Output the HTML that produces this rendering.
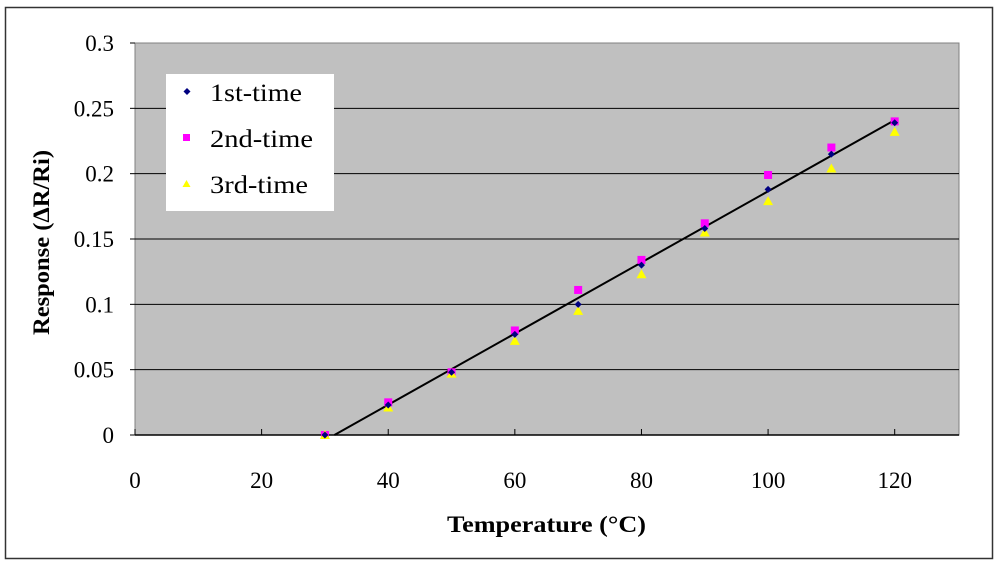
<!DOCTYPE html>
<html><head><meta charset="utf-8"><style>
body{margin:0;background:#fff;width:1000px;height:563px;overflow:hidden}
text{font-family:"Liberation Serif",serif}
</style></head><body>
<svg width="1000" height="563" viewBox="0 0 1000 563">
<rect x="5.5" y="7.5" width="987" height="551" fill="#fff" stroke="#333" stroke-width="1.5"/>
<rect x="135" y="43" width="824" height="392" fill="#c0c0c0" stroke="#808080"/>
<g id="grid"></g><g id="axes"></g><g id="marks"></g>
<text x="447" y="532" font-size="23" font-weight="bold" textLength="199" lengthAdjust="spacingAndGlyphs">Temperature (°C)</text>
<text transform="translate(49,335) rotate(-90)" font-size="23" font-weight="bold" textLength="185" lengthAdjust="spacingAndGlyphs">Response (ΔR/Ri)</text>
<g>
<rect x="166" y="74" width="168" height="137" fill="#fff"/>
<path d="M187 88 l3.5 3.5 l-3.5 3.5 l-3.5 -3.5z" fill="#000080"/>
<text x="210" y="101" font-size="25" textLength="92" lengthAdjust="spacingAndGlyphs">1st-time</text>
<rect x="183" y="134" width="7" height="7" fill="#ff00ff"/>
<text x="210" y="147" font-size="25" textLength="103" lengthAdjust="spacingAndGlyphs">2nd-time</text>
<path d="M186.5 180 l4 7 h-8z" fill="#ffff00"/>
<text x="210" y="193" font-size="25" textLength="98" lengthAdjust="spacingAndGlyphs">3rd-time</text>
</g>
</svg>
<script>
const temps=[30,40,50,60,70,80,90,100,110,120];
const first=[0,0.023,0.048,0.077,0.100,0.130,0.158,0.188,0.215,0.239];
const second=[0,0.025,0.048,0.080,0.111,0.134,0.162,0.199,0.220,0.240];
const third=[0,0.021,0.047,0.072,0.095,0.123,0.155,0.179,0.204,0.232];
const xTicks=[0,20,40,60,80,100,120];
const yTicks=[0,0.05,0.1,0.15,0.2,0.25,0.3];
const yTickLabels=["0","0.05","0.1","0.15","0.2","0.25","0.3"];
const trend=[[31.5,0],[120,0.241]];
const NS="http://www.w3.org/2000/svg";
const X=v=>135+v*(823/130);
const Y=v=>435-v*(392/0.3);
function mk(p,tag,a){const e=document.createElementNS(NS,tag);for(const k in a)e.setAttribute(k,a[k]);p.appendChild(e);return e;}
const grid=document.getElementById('grid'),axes=document.getElementById('axes'),marks=document.getElementById('marks');
yTicks.forEach((t,i)=>{
 if(t>0&&t<0.3){const l=mk(grid,'line',{x1:135,x2:959,y1:Y(t),y2:Y(t),stroke:'#000','stroke-width':1});
 
 }
 mk(axes,'line',{x1:130,x2:135,y1:Y(t),y2:Y(t),stroke:'#000'});
 const tx=mk(axes,'text',{x:114,y:Y(t)+8,'text-anchor':'end','font-size':23});tx.textContent=yTickLabels[i];
 
 
});
xTicks.forEach(t=>{
 mk(axes,'line',{x1:X(t),x2:X(t),y1:435,y2:429,stroke:'#000'});
 const tx=mk(axes,'text',{x:X(t),y:488,'text-anchor':'middle','font-size':23});tx.textContent=t;
 
 
});
mk(axes,'line',{x1:135,x2:959,y1:435,y2:435,stroke:'#000','stroke-width':1.5});
const tl=mk(marks,'line',{x1:X(trend[0][0]),y1:Y(trend[0][1]),x2:X(trend[1][0]),y2:Y(trend[1][1]),stroke:'#000','stroke-width':2});


temps.forEach((t,i)=>{
 const x=X(t);
 const s=mk(marks,'rect',{x:x-4,y:Y(second[i])-4,width:8,height:8,fill:'#ff00ff'});
 
 
 let y=Y(third[i]);
 const tr=mk(marks,'path',{d:`M${x} ${y-5}L${x+5} ${y+4}H${x-5}Z`,fill:'#ffff00'});
 
 
 y=Y(first[i]);
 const d=mk(marks,'path',{d:`M${x} ${y-3.5}l3.5 3.5l-3.5 3.5l-3.5 -3.5Z`,fill:'#000080'});
 
 
});
</script>
</body></html>
